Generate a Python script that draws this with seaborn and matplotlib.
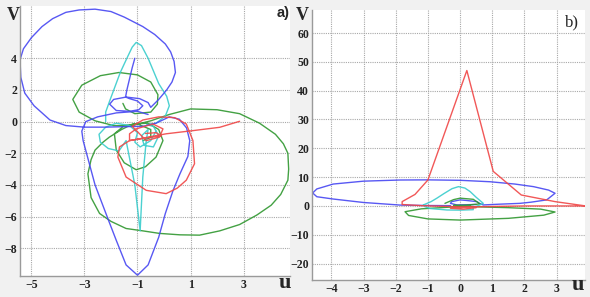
import matplotlib
matplotlib.use("Agg")
import matplotlib.pyplot as plt
import seaborn as sns
import pandas as pd

# ---------------- Data: panel a) ----------------
a_blue_u = [-1.1, -1.2, -1.3, -1.4, -1.45, -1.3, -1.0, -0.8, -0.95, -1.3, -1.8, -2.05, -1.9, -1.43, -0.92, -0.6,
            -0.5, -0.2, 0.1, 0.3, 0.43, 0.38, 0.25, 0.05, -0.35, -0.8, -1.5, -2.0, -2.6, -3.2, -3.7, -4.2, -4.6, -5.0,
            -5.3, -5.43, -5.4, -5.25, -4.9, -4.3, -3.7, -3.0, -2.2, -1.5, -0.8, -0.3, 0.2, 0.58, 0.85, 0.97,
            0.9, 0.6, 0.33, 0.05, -0.2, -0.6, -1.0, -1.43, -1.8, -2.1, -2.6, -3.05, -3.1, -2.95, -2.5, -1.8,
            -1.0, -0.6]
a_blue_v = [4.0, 3.4, 2.7, 2.0, 1.55, 1.45, 1.3, 1.0, 0.75, 0.65, 0.7, 1.1, 1.4, 1.55, 1.45, 1.2,
            0.9, 1.4, 2.0, 2.5, 3.1, 3.8, 4.4, 4.9, 5.5, 6.0, 6.6, 6.95, 7.1, 7.05, 6.9, 6.5, 6.0, 5.3,
            4.6, 3.9, 2.8, 1.8, 1.0, 0.1, -0.25, -0.35, -0.35, -0.32, -0.3, -0.1, 0.3, 0.15, -0.4, -1.2,
            -2.2, -3.3, -4.4, -5.8, -7.3, -9.05, -9.7, -9.05, -7.5, -6.2, -4.0, -1.2, -0.6, 0.0, 0.3, 0.55,
            0.65, 0.45]

a_cyan_u = [-2.2, -2.2, -2.05, -1.85, -1.65, -1.4, -1.2, -1.05, -0.85, -0.6, -0.4, -0.2, 0.1, 0.2, 0.05,
            -0.3, -0.65, -0.4, -0.2, -0.4, -0.75, -0.85, -0.6, -0.67, -0.8, -0.9, -1.1, -1.43, -1.7, -2.1,
            -2.4, -2.45, -2.2, -1.8, -1.3, -1.0, -1.1, -0.9, -0.5, -0.3]
a_cyan_v = [0.0, 0.6, 1.3, 2.2, 3.1, 4.0, 4.7, 5.0, 4.8, 4.0, 3.2, 2.4, 1.6, 1.0, 0.35,
            -0.1, -0.2, -0.3, -0.9, -1.6, -1.5, -0.9, -0.5, -1.2, -3.5, -6.9, -4.0, -1.2, -1.85, -1.7,
            -1.3, -0.8, -0.35, -0.1, -0.25, -0.7, -1.3, -1.6, -1.2, -0.6]

a_green_u = [-1.55, -1.45, -1.1, -0.5, -0.25, -0.23, -0.5, -1.0, -1.7, -2.4, -3.1, -3.44, -3.2, -2.6, -1.9,
             -1.2, -0.5, 0.2, 1.0, 2.0, 2.85, 3.6, 4.2, 4.5, 4.67, 4.7, 4.67, 4.4, 4.04, 3.5, 2.85, 2.1,
             1.34, 0.6, -0.17, -0.8, -1.43, -2.0, -2.43, -2.75, -2.87, -2.75, -2.6, -2.3, -2.06, -1.6,
             -1.18, -0.6, -0.2, -0.04, -0.3, -0.7, -1.05, -1.5, -1.8, -1.87, -1.5, -1.0, -0.5, -0.5, -0.8]
a_green_v = [1.15, 0.8, 0.5, 0.6, 1.1, 1.7, 2.5, 2.95, 3.1, 2.9, 2.3, 1.4, 0.6, 0.05, -0.25,
             -0.25, 0.05, 0.45, 0.8, 0.75, 0.5, -0.1, -0.8, -1.4, -2.0, -3.0, -3.7, -4.6, -5.28, -5.9, -6.5, -6.9,
             -7.17, -7.15, -7.06, -6.9, -6.75, -6.3, -5.8, -4.8, -3.3, -2.4, -1.8, -1.3, -0.98, -0.5,
             -0.15, -0.1, -0.5, -1.2, -2.24, -2.85, -3.04, -2.6, -1.8, -0.77, -0.25, -0.15, -0.5, -1.0, -1.2]

a_red_u = [2.85, 2.1, 1.09, 0.08, -1.3, -1.3, -1.05, -0.42, -0.04, -0.17, -0.67, -1.2, -0.8, -0.2, 0.4,
           0.84, 1.09, 1.15, 0.84, 0.5, 0.08, -0.67, -1.43, -1.74, -1.68, -1.3, -0.55, -0.1, -0.3, -0.7]
a_red_v = [0.02, -0.36, -0.57, -0.77, -1.2, -0.77, -0.46, -0.15, -0.46, -0.98, -1.2, -0.3, 0.1, 0.3, 0.25,
           -0.15, -1.2, -2.66, -3.7, -4.2, -4.55, -4.34, -3.5, -2.24, -1.6, -1.2, -1.0, -0.9, -0.7, -0.75]

# ---------------- Data: panel b) ----------------
b_red_u = [3.9, 2.95, 1.9, 1.03, 0.21, -1.0, -1.4, -1.8, -1.8, -1.2, -0.3, 0.5, 0.1, -0.3, 0.4, 2.0, 3.9]
b_red_v = [0.0, 1.5, 3.8, 12.0, 47.0, 9.0, 4.0, 1.5, 0.5, 0.1, -0.2, -0.6, -1.1, -0.8, -0.3, 0.0, 0.0]

b_blue_u = [-0.3, -1.0, -1.86, -3.0, -3.94, -4.45, -4.58, -4.45, -3.94, -3.0, -1.86, -1.0, 0.0, 0.93, 1.7,
            2.28, 2.75, 2.95, 2.69, 2.2, 1.86, 1.2, 0.72, 0.6, 0.52, 0.2, 0.0, -0.26, -0.3, -0.1, 0.5]
b_blue_v = [0.1, 0.15, 0.3, 1.2, 2.4, 3.2, 4.5, 5.9, 7.6, 8.6, 9.0, 9.05, 8.9, 8.4, 7.6,
            6.7, 5.5, 4.4, 2.1, 1.3, 0.9, 0.6, 0.35, 0.9, 1.5, 1.9, 2.1, 1.5, 0.9, 0.35, 0.5]

b_cyan_u = [-1.14, -0.9, -0.72, -0.5, -0.25, -0.05, 0.15, 0.31, 0.5, 0.72, 0.6, 0.4, 0.41, 0.0, -0.41,
            -0.93, -1.1, -1.14]
b_cyan_v = [0.35, 1.5, 2.7, 4.3, 6.0, 6.7, 6.2, 5.0, 3.0, 0.9, 0.3, -0.6, -1.3, -1.45, -1.4,
            -0.9, -0.2, 0.35]

b_green_u = [-0.47, -0.2, 0.0, 0.41, 0.62, 0.2, -0.2, 0.5, 1.5, 2.5, 2.95, 2.6, 1.5, 0.0, -1.0, -1.6,
             -1.71, -1.2, -0.3, 0.3]
b_green_v = [0.9, 2.2, 2.7, 2.3, 0.7, 0.3, 0.2, -0.3, -0.6, -1.1, -2.1, -3.2, -4.3, -4.9, -4.5, -3.3,
             -2.0, -1.0, -0.4, 0.1]

a_xticks = [-5, -3, -1, 1, 3]
a_yticks = [-8, -6, -4, -2, 0, 2, 4]
b_xticks = [-4, -3, -2, -1, 0, 1, 2, 3]
b_yticks = [-20, -10, 0, 10, 20, 30, 40, 50, 60]

# ---------------- Styling ----------------
sns.set_theme(style="white")
plt.rcParams['font.family'] = ['Liberation Serif', 'DejaVu Serif']

C_BLUE = '#4646f2'
C_CYAN = '#38cccc'
C_GREEN = '#2f972f'
C_RED = '#f04646'
FIG_BG = '#f1f1f1'

fig = plt.figure(figsize=(5.9, 2.97), dpi=100, facecolor=FIG_BG)
ax1 = fig.add_axes([20/590, 21/297, 270/590, 270/297])
ax2 = fig.add_axes([312/590, 17/297, 273/590, 270/297])

def draw(ax, series):
    for u, v, c in series:
        df = pd.DataFrame({'u': u, 'v': v})
        sns.lineplot(data=df, x='u', y='v', sort=False, estimator=None,
                     color=c, lw=1.0, alpha=0.9, ax=ax)

draw(ax1, [(a_green_u, a_green_v, C_GREEN), (a_cyan_u, a_cyan_v, C_CYAN),
           (a_blue_u, a_blue_v, C_BLUE), (a_red_u, a_red_v, C_RED)])
draw(ax2, [(b_blue_u, b_blue_v, C_BLUE), (b_green_u, b_green_v, C_GREEN),
           (b_cyan_u, b_cyan_v, C_CYAN), (b_red_u, b_red_v, C_RED)])

ax1.set_xlim(-5.43, 4.75)
ax1.set_ylim(-9.75, 7.3)
ax2.set_xlim(-4.6, 3.88)
ax2.set_ylim(-25.7, 68)

for ax, xt, yt in [(ax1, a_xticks, a_yticks), (ax2, b_xticks, b_yticks)]:
    ax.set_facecolor('white')
    ax.set_xticks(xt)
    ax.set_yticks(yt)
    ax.set_xlabel('')
    ax.set_ylabel('')
    ax.grid(True, linestyle=(0, (1, 1)), color='#a8a8a8', lw=0.8)
    ax.tick_params(length=0, labelsize=8.5, pad=2, colors='#222222')
    for s in ['top', 'right']:
        ax.spines[s].set_visible(False)
    for s in ['left', 'bottom']:
        ax.spines[s].set_color('#9a9a9a')
        ax.spines[s].set_linewidth(1.0)
    for lab in ax.get_xticklabels() + ax.get_yticklabels():
        lab.set_fontweight('bold')

def ftext(x, y, s, **kw):
    fig.text(x/590, 1 - y/297, s, ha='center', va='center', **kw)

ftext(13, 15, 'V', fontsize=13, fontweight='bold', family=['Liberation Serif'])
ftext(285, 283, 'u', fontsize=16, fontweight='bold', family=['Liberation Serif'])
ftext(302, 16, 'V', fontsize=13, fontweight='bold', family=['Liberation Serif'])
ftext(578, 285, 'u', fontsize=16, fontweight='bold', family=['Liberation Serif'])
ftext(283, 13, 'a)', fontsize=10.5, fontweight='bold', family=['Liberation Sans'])
ftext(572, 22, 'b)', fontsize=12, family=['Liberation Serif'])

fig.savefig('out.png', dpi=100, facecolor=FIG_BG)
